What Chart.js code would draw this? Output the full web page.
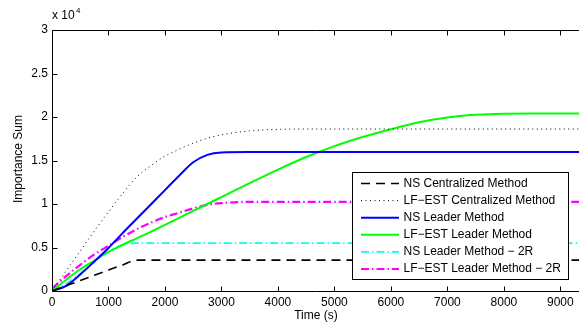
<!DOCTYPE html>
<html>
<head>
<meta charset="utf-8">
<script src="https://cdn.jsdelivr.net/npm/chart.js@4.4.1/dist/chart.umd.min.js"></script>
<style>
  html, body { margin: 0; padding: 0; background: #fff; overflow: hidden; }
  #wrap { width: 579px; height: 325px; position: relative; }
</style>
</head>
<body>
<div id="wrap"><canvas id="c" width="579" height="325"></canvas></div>
<script>
// Sample times (s)
const times = [0, 250, 500, 750, 1000, 1250, 1500, 1750, 2000, 2250, 2500, 2750, 3000,
               3500, 4000, 4500, 5000, 5500, 6000, 6500, 7000, 7500, 8000, 8500, 9000, 9500];

// Cumulative importance sum for each method
const nsCentralized = [0, 600, 1200, 1800, 2400, 3000, 3550, 3550, 3550, 3550, 3550, 3550, 3550,
                       3550, 3550, 3550, 3550, 3550, 3550, 3550, 3550, 3550, 3550, 3550, 3550, 3550];
const lfCentralized = [0, 2300, 4600, 6900, 9100, 11200, 13100, 14400, 15500, 16300, 17000, 17550, 17950,
                       18400, 18580, 18620, 18620, 18620, 18620, 18620, 18620, 18620, 18620, 18620, 18620, 18620];
const nsLeader = [0, 600, 1900, 3400, 4950, 6650, 8300, 9950, 11600, 13250, 14800, 15650, 15930,
                  15980, 15980, 15980, 15980, 15980, 15980, 15980, 15980, 15980, 15980, 15980, 15980, 15980];
const lfLeader = [0, 1300, 2500, 3500, 4500, 5300, 6050, 6800, 7600, 8400, 9200, 10000, 10800,
                  12400, 13950, 15400, 16650, 17700, 18600, 19400, 19950, 20250, 20380, 20400, 20400, 20400];
const nsLeader2R = [0, 800, 2000, 3400, 4500, 5300, 5500, 5500, 5500, 5500, 5500, 5500, 5500,
                    5500, 5500, 5500, 5500, 5500, 5500, 5500, 5500, 5500, 5500, 5500, 5500, 5500];
const lfLeader2R = [300, 1700, 3000, 4200, 5200, 6200, 7100, 7850, 8500, 9000, 9500, 9900, 10100,
                    10250, 10250, 10250, 10250, 10250, 10250, 10250, 10250, 10250, 10250, 10250, 10250, 10250];

const seriesLabels = ['NS Centralized Method', 'LF\u2212EST Centralized Method', 'NS Leader Method',
                      'LF\u2212EST Leader Method', 'NS Leader Method \u2212 2R', 'LF\u2212EST Leader Method \u2212 2R'];

// Axis ticks
const xTicks = [0, 1000, 2000, 3000, 4000, 5000, 6000, 7000, 8000, 9000];
const yTicks = [0, 5000, 10000, 15000, 20000, 25000, 30000];

const FONT = '"Liberation Sans", Arial, Helvetica, sans-serif';

function pts(vals) { return times.map((t, i) => ({ x: t, y: vals[i] })); }

const styles = [
  { color: '#000000', width: 1.6, dash: [9, 6] },
  { color: '#000000', width: 1, dash: [1, 3.5] },
  { color: '#0000ff', width: 2, dash: [] },
  { color: '#00ff00', width: 2, dash: [] },
  { color: '#00ffff', width: 1.8, dash: [8, 3, 1.5, 3] },
  { color: '#ff00ff', width: 2.2, dash: [8, 3, 1.5, 3] }
];
const allSeries = [nsCentralized, lfCentralized, nsLeader, lfLeader, nsLeader2R, lfLeader2R];

const datasets = allSeries.map((vals, i) => ({
  label: seriesLabels[i],
  data: pts(vals),
  borderColor: styles[i].color,
  borderWidth: styles[i].width,
  borderDash: styles[i].dash,
  pointRadius: 0,
  fill: false,
  cubicInterpolationMode: 'monotone'
}));

// Frame, inward ticks, titles, exponent note and boxed legend
const framePlugin = {
  id: 'frame',
  afterDraw(chart) {
    const { ctx, chartArea: a, scales } = chart;
    const xs = scales.x, ys = scales.y;
    ctx.save();
    ctx.strokeStyle = '#000';
    ctx.lineWidth = 1;
    const L = Math.round(a.left) + 0.5, T = Math.round(a.top) + 0.5, B = Math.round(a.bottom) + 0.5;
    const R = a.right + 5;
    ctx.beginPath();
    ctx.moveTo(R, T); ctx.lineTo(L, T); ctx.lineTo(L, B); ctx.lineTo(R, B);
    ctx.stroke();
    // inward tick marks
    ctx.beginPath();
    xTicks.forEach(v => {
      const px = Math.round(xs.getPixelForValue(v)) + 0.5;
      ctx.moveTo(px, B); ctx.lineTo(px, B - 5);
      ctx.moveTo(px, T); ctx.lineTo(px, T + 5);
    });
    yTicks.forEach(v => {
      const py = Math.round(ys.getPixelForValue(v)) + 0.5;
      ctx.moveTo(L, py); ctx.lineTo(L + 5, py);
    });
    ctx.stroke();

    ctx.fillStyle = '#000';
    // x axis title
    ctx.font = '12px ' + FONT;
    ctx.textAlign = 'center';
    ctx.textBaseline = 'middle';
    ctx.fillText('Time (s)', 316, 316);
    // y axis title
    ctx.save();
    ctx.translate(19, 159);
    ctx.rotate(-Math.PI / 2);
    ctx.fillText('Importance Sum', 0, 0);
    ctx.restore();
    // exponent note
    ctx.textAlign = 'left';
    ctx.fillText('x 10', 52, 16);
    ctx.font = '8px ' + FONT;
    ctx.fillText('4', 76, 11);

    // legend box
    const bx = 352.5, by = 172.5, bw = 216, bh = 107;
    ctx.fillStyle = '#fff';
    ctx.fillRect(bx, by, bw, bh);
    ctx.strokeStyle = '#000';
    ctx.lineWidth = 1;
    ctx.strokeRect(bx, by, bw, bh);
    ctx.font = '12px ' + FONT;
    ctx.textBaseline = 'middle';
    chart.data.datasets.forEach((ds, i) => {
      const y = 183.5 + i * 17.1;
      ctx.save();
      ctx.strokeStyle = ds.borderColor;
      ctx.lineWidth = ds.borderWidth;
      ctx.setLineDash(ds.borderDash);
      ctx.beginPath();
      ctx.moveTo(361, y); ctx.lineTo(399, y);
      ctx.stroke();
      ctx.restore();
      ctx.fillStyle = '#000';
      ctx.fillText(ds.label, 403.5, y);
    });
    ctx.restore();
  }
};

new Chart(document.getElementById('c'), {
  type: 'line',
  data: { datasets },
  options: {
    responsive: false,
    animation: false,
    layout: { padding: { top: 30, right: 0, left: 0, bottom: 0 } },
    plugins: { legend: { display: false }, tooltip: { enabled: false } },
    scales: {
      x: {
        type: 'linear',
        min: 0,
        max: 9330,
        grid: { display: false, drawTicks: false },
        border: { display: false },
        afterFit(s) { s.height = 34; },
        afterBuildTicks(s) { s.ticks = xTicks.map(v => ({ value: v })); },
        ticks: {
          padding: 4,
          color: '#000',
          font: { family: FONT, size: 12 },
          maxRotation: 0,
          autoSkip: false,
          callback: v => String(v)
        }
      },
      y: {
        type: 'linear',
        min: 0,
        max: 30000,
        grid: { display: false, drawTicks: false },
        border: { display: false },
        afterFit(s) { s.width = 52; },
        afterBuildTicks(s) { s.ticks = yTicks.map(v => ({ value: v })); },
        ticks: {
          padding: 4,
          color: '#000',
          font: { family: FONT, size: 12 },
          callback: v => String(v / 10000)
        }
      }
    }
  },
  plugins: [framePlugin]
});
</script>
</body>
</html>
